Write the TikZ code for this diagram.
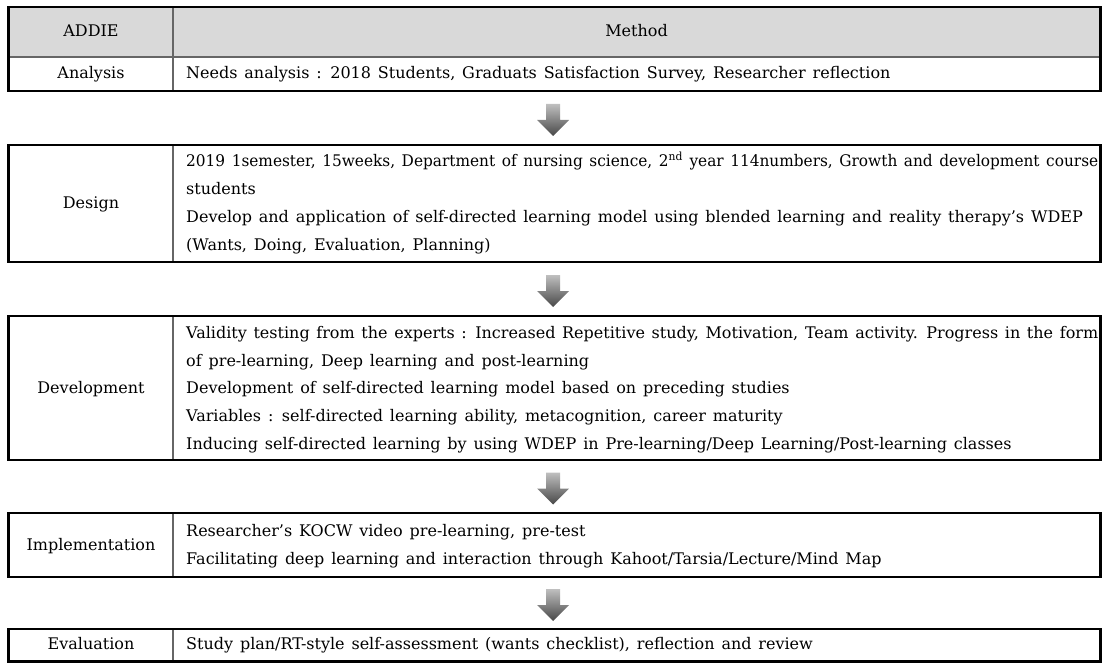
\documentclass[tikz,border=0pt]{standalone}
\usepackage{graphicx}
\usepackage{fontspec}
\setmainfont{DejaVu Serif}[WordSpace=1.35]
\usetikzlibrary{calc}
\begin{document}
\begin{tikzpicture}[x=1pt,y=-1pt,
  frame/.style={draw=black,line width=2.6pt},
  rulex/.style={draw=black!60,line width=1.1pt},
  txt/.style={font=\fontsize{16}{19}\selectfont,
    inner sep=0pt,text height=11.5pt,text depth=3pt},
  lbl/.style={txt,anchor=center},
  ln/.style={txt,anchor=west},
  flowarrow/.pic={
    \shade[top color=black!25,bottom color=black!72]
      (-7,-16) -- (7,-16) -- (7,0) -- (16,0) -- (0,16) -- (-16,0) -- (-7,0) -- cycle;
  },
]
\useasboundingbox (0,0) rectangle (1108,663);

% ---- boxes (stage label column | method column) ----
\fill[black!15] (8.5,7) rectangle (1100.5,57);
\coordinate (hdTL) at (8.5,7);
\coordinate (anBR) at (1100.5,91);
\draw[rulex] (8.5,57) -- (1100.5,57);
\draw[rulex] (173,7) -- (173,91);
\draw[frame] (hdTL) rectangle (anBR);

\coordinate (dsTL) at (8.5,145);
\coordinate (dsBR) at (1100.5,262);
\draw[rulex] (173,145) -- (173,262);
\draw[frame] (dsTL) rectangle (dsBR);

\coordinate (dvTL) at (8.5,316);
\coordinate (dvBR) at (1100.5,460);
\draw[rulex] (173,316) -- (173,460);
\draw[frame] (dvTL) rectangle (dvBR);

\coordinate (imTL) at (8.5,513);
\coordinate (imBR) at (1100.5,577);
\draw[rulex] (173,513) -- (173,577);
\draw[frame] (imTL) rectangle (imBR);

\coordinate (evTL) at (8.5,629);
\coordinate (evBR) at (1100.5,661.5);
\draw[rulex] (173,629) -- (173,661.5);
\draw[frame] (evTL) rectangle (evBR);

% ---- header ----
\node[lbl] (hADDIE) at (91,32) {ADDIE};
\node[lbl] (hMethod) at (636.5,32) {Method};

% ---- Analysis ----
\node[lbl] (lAn) at (91,74.5) {Analysis};
\node[ln] (tAn) at (186,74.5) {Needs analysis : 2018 Students, Graduats Satisfaction Survey, Researcher reflection};

% ---- Design ----
\node[lbl] (lDs) at (91,204) {Design};
\node[ln] (tDs1) at (186,162.5) {\resizebox{912pt}{\height}{2019 1semester, 15weeks, Department of nursing science, 2\textsuperscript{nd} year 114numbers, Growth and development course}};
\node[ln] (tDs2) at (186,190.5) {students};
\node[ln] (tDs3) at (186,218.5) {Develop and application of self-directed learning model using blended learning and reality therapy’s WDEP};
\node[ln] (tDs4) at (186,246.5) {(Wants, Doing, Evaluation, Planning)};

% ---- Development ----
\node[lbl] (lDv) at (91,389.5) {Development};
\node[ln] (tDv1) at (186,334) {\makebox[912pt][s]{Validity testing from the experts : Increased Repetitive study, Motivation, Team activity. Progress in the form}};
\node[ln] (tDv2) at (186,362) {of pre-learning, Deep learning and post-learning};
\node[ln] (tDv3) at (186,389.5) {Development of self-directed learning model based on preceding studies};
\node[ln] (tDv4) at (186,417) {Variables : self-directed learning ability, metacognition, career maturity};
\node[ln] (tDv5) at (186,445) {Inducing self-directed learning by using WDEP in Pre-learning/Deep Learning/Post-learning classes};

% ---- Implementation ----
\node[lbl] (lIm) at (91,546) {Implementation};
\node[ln] (tIm1) at (186,532) {Researcher’s KOCW video pre-learning, pre-test};
\node[ln] (tIm2) at (186,560) {Facilitating deep learning and interaction through Kahoot/Tarsia/Lecture/Mind Map};

% ---- Evaluation ----
\node[lbl] (lEv) at (91,645.5) {Evaluation};
\node[ln] (tEv) at (186,645.5) {Study plan/RT-style self-assessment (wants checklist), reflection and review};

% ---- stage arrows, set a little below the middle of each gap ----
\pic at ($(553,91)!0.5!(553,145)+(0,2)$) {flowarrow};
\pic at ($(553,262)!0.5!(553,316)+(0,2)$) {flowarrow};
\pic at ($(553,460)!0.5!(553,513)+(0,2)$) {flowarrow};
\pic at ($(553,577)!0.5!(553,629)+(0,2)$) {flowarrow};
\end{tikzpicture}
\end{document}
